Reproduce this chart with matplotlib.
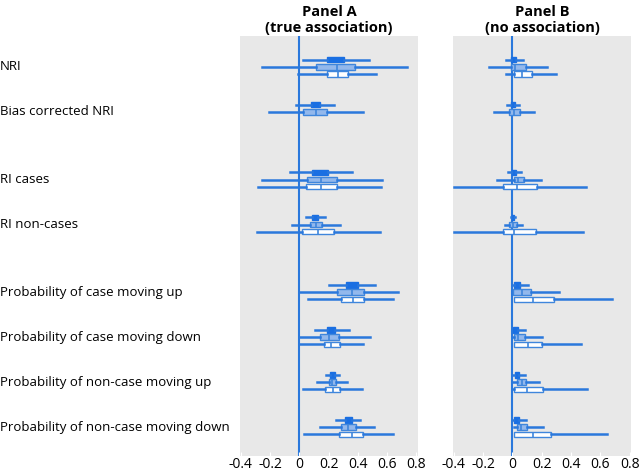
import matplotlib
matplotlib.use("Agg")
import matplotlib.pyplot as plt
import matplotlib.transforms as mtransforms

plt.rcParams['font.family'] = ['Open Sans', 'DejaVu Sans']

rows = ['NRI', 'Bias corrected NRI', 'RI cases', 'RI non-cases',
        'Probability of case moving up', 'Probability of case moving down',
        'Probability of non-case moving up', 'Probability of non-case moving down']
row_pos = [0, 1, 2.5, 3.5, 5, 6, 7, 8]

# each entry: (whisker low, q1, median, q3, whisker high); None = not shown
a_dark = [(0.025, 0.19, 0.25, 0.305, 0.473), (-0.023, 0.077, 0.11, 0.142, 0.235),
          (-0.061, 0.09, 0.14, 0.197, 0.357), (0.047, 0.09, 0.11, 0.127, 0.176),
          (0.206, 0.317, 0.36, 0.40, 0.517), (0.106, 0.188, 0.22, 0.246, 0.339),
          (0.183, 0.212, 0.23, 0.244, 0.273), (0.251, 0.314, 0.335, 0.357, 0.414)]
a_light = [(-0.258, 0.117, 0.255, 0.377, 0.737), (-0.21, 0.025, 0.113, 0.192, 0.436),
           (-0.253, 0.05, 0.149, 0.258, 0.563), (-0.047, 0.07, 0.113, 0.154, 0.278),
           (0.0, 0.255, 0.36, 0.445, 0.676), (0.0, 0.138, 0.201, 0.273, 0.484),
           (0.124, 0.201, 0.226, 0.253, 0.328), (0.14, 0.285, 0.334, 0.386, 0.511)]
a_white = [(-0.007, 0.188, 0.262, 0.33, 0.522), None,
           (-0.28, 0.043, 0.145, 0.255, 0.556), (-0.29, 0.016, 0.131, 0.235, 0.554),
           (0.057, 0.287, 0.368, 0.443, 0.637), (0.0, 0.172, 0.219, 0.276, 0.436),
           (0.027, 0.178, 0.233, 0.276, 0.425), (0.034, 0.271, 0.359, 0.432, 0.64)]

b_dark = [(-0.041, -0.009, 0.01, 0.027, 0.07), (-0.036, -0.01, 0.005, 0.018, 0.045),
          (-0.032, -0.005, 0.01, 0.025, 0.059), (-0.01, 0.0, 0.005, 0.01, 0.02),
          (0.005, 0.009, 0.03, 0.05, 0.108), (0.005, 0.005, 0.02, 0.039, 0.088),
          (0.005, 0.016, 0.03, 0.045, 0.086), (0.0, 0.009, 0.025, 0.045, 0.093)]
b_light = [(-0.16, -0.011, 0.02, 0.093, 0.235), (-0.127, -0.025, 0.01, 0.05, 0.149),
           (-0.108, 0.009, 0.04, 0.079, 0.194), (-0.052, -0.02, 0.005, 0.034, 0.068),
           (0.005, 0.005, 0.068, 0.124, 0.316), (0.005, 0.009, 0.04, 0.086, 0.201),
           (0.007, 0.029, 0.063, 0.093, 0.183), (0.009, 0.032, 0.061, 0.102, 0.212)]
b_white = [(-0.045, 0.014, 0.068, 0.133, 0.298), None,
           (-0.402, -0.061, 0.029, 0.167, 0.502), (-0.398, -0.066, 0.011, 0.16, 0.479),
           (0.009, 0.014, 0.138, 0.282, 0.682), (0.009, 0.014, 0.104, 0.201, 0.468),
           (0.007, 0.009, 0.1, 0.208, 0.51), (0.009, 0.014, 0.14, 0.264, 0.646)]

xticks = [-0.4, -0.2, 0, 0.2, 0.4, 0.6, 0.8]
xticklabels = ['-0.4', '-0.2', '0', '0.2', '0.4', '0.6', '0.8']

blue = '#2a78dc'
styles = [('#1a6fe2', '#1a6fe2', -0.16), ('#93b8ec', '#3f86dc', 0.0), ('white', '#3f86dc', 0.16)]


def draw_panel(ax, series, title):
    ax.set_facecolor('#e8e8e8')
    ax.axvline(0, color=blue, lw=1.5, zorder=1)
    for data, (fill, edge, off) in zip(series, styles):
        stats, pos = [], []
        for s, p in zip(data, row_pos):
            if s is None:
                continue
            lo, q1, med, q3, hi = s
            stats.append(dict(whislo=lo, q1=q1, med=med, q3=q3, whishi=hi, fliers=[]))
            pos.append(p + off)
        ax.bxp(stats, positions=pos, widths=0.12, orientation='horizontal',
               showcaps=False, showfliers=False, patch_artist=True,
               boxprops=dict(facecolor=fill, edgecolor=edge, lw=1.0),
               medianprops=dict(color=edge, lw=1.2),
               whiskerprops=dict(color=blue, lw=1.8))
    ax.set_xlim(-0.405, 0.81)
    ax.set_ylim(8.64, -0.69)
    ax.set_yticks([])
    ax.set_xticks(xticks)
    ax.set_xticklabels(xticklabels, fontsize=10)
    ax.tick_params(axis='x', direction='in', length=3, color='white', pad=1)
    for sp in ax.spines.values():
        sp.set_visible(False)
    ax.set_title(title, fontsize=10.5, fontweight='bold', pad=3, linespacing=1.15)


fig = plt.figure(figsize=(6.4, 4.72), dpi=100)
ax_a = fig.add_axes([0.375, 0.034, 0.278, 0.89])
ax_b = fig.add_axes([0.708, 0.034, 0.278, 0.89])
draw_panel(ax_a, [a_dark, a_light, a_white], 'Panel A\n(true association)')
draw_panel(ax_b, [b_dark, b_light, b_white], 'Panel B\n(no association)')

trans = mtransforms.blended_transform_factory(fig.transFigure, ax_a.transData)
for label, p in zip(rows, row_pos):
    fig.text(0.0, p, label, transform=trans, ha='left', va='center', fontsize=9.5)

fig.savefig('out.png', dpi=100)
